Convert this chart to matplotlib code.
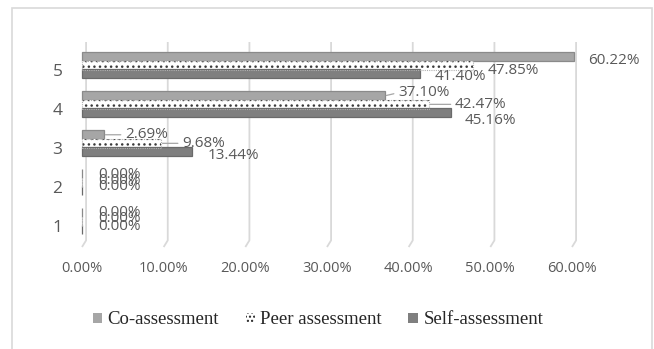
import matplotlib
matplotlib.use("Agg")
import matplotlib.pyplot as plt
from matplotlib.patches import Rectangle, Patch
import numpy as np

# Survey ratings 1-5, share of responses for each assessment type
categories = [1, 2, 3, 4, 5]
series_names = ["Co-assessment", "Peer assessment", "Self-assessment"]
co_assessment = [0.0, 0.0, 2.69, 37.10, 60.22]
peer_assessment = [0.0, 0.0, 9.68, 42.47, 47.85]
self_assessment = [0.0, 0.0, 13.44, 45.16, 41.40]
x_ticks = [0, 10, 20, 30, 40, 50, 60]

W, H = 654, 349
fig = plt.figure(figsize=(W / 100, H / 100), dpi=100)
fig.patch.set_facecolor("white")

# outer chart border
fig.add_artist(Rectangle((12 / W, -0.02), 640 / W, 1 - 8 / H + 0.02,
                         transform=fig.transFigure, fill=False,
                         edgecolor="#d9d9d9", lw=1.2))

left, right = 82 / W, 572 / W
bottom, top = 1 - 247 / H, 1 - 42 / H
ax = fig.add_axes([left, bottom, right - left, top - bottom])
ax.set_xlim(0, 60)
ax.set_ylim(0.46, 5.72)
for s in ax.spines.values():
    s.set_visible(False)

num_font = "Open Sans"
label_col = "#595959"

# back-wall gridlines with a short slanted foot
grid_col = "#d9d9d9"
for v in x_ticks:
    ax.plot([v + 0.5, v + 0.5, v], [5.72, 0.63, 0.46], color=grid_col,
            lw=1.3, clip_on=False, zorder=0, solid_capstyle="butt")

cats = np.array(categories, dtype=float)
bh = 0.23
offs = [0.34, 0.12, -0.10]
values = [co_assessment, peer_assessment, self_assessment]
styles = [
    dict(color="#a6a6a6", edgecolor="#8a8a8a", linewidth=0.9),
    dict(color="white", edgecolor="#3a3a3a", linewidth=0, hatch="..."),
    dict(color="#7f7f7f", edgecolor="#6a6a6a", linewidth=0.9),
]
for vals, off, st in zip(values, offs, styles):
    ax.barh(cats + off, vals, height=bh, zorder=2, clip_on=False, **st)
    if st.get("hatch"):
        # dotted grey outline of the patterned bars
        ax.barh(cats + off, vals, height=bh, zorder=3, fill=False, clip_on=False,
                edgecolor="#b0b0b0", linewidth=0.8, linestyle=(0, (1, 1)))

# data label offsets (pixels right, pixels down) per series and category
label_offsets = [
    [(16, 0), (16, 1), (21, 0), (13, -3), (14, 4)],
    [(16, -3), (16, -2), (21, 0), (26, 0), (15, 5)],
    [(16, -3), (16, -4), (16, 4), (14, 8), (15, 3)],
]
leaders = {(0, 2), (1, 2), (0, 3), (1, 3)}
for si, (vals, off) in enumerate(zip(values, offs)):
    for ci, (c, v) in enumerate(zip(cats, vals)):
        dx, dy = label_offsets[si][ci]
        kw = {}
        if (si, ci) in leaders:
            kw["arrowprops"] = dict(arrowstyle="-", color="#a6a6a6", lw=0.9,
                                    shrinkA=1, shrinkB=1, relpos=(0, 0.5))
        ax.annotate(f"{v:.2f}%", xy=(v, c + off),
                    xytext=(dx * 0.72, -dy * 0.72), textcoords="offset points",
                    ha="left", va="center", fontsize=11, family=num_font,
                    color=label_col, zorder=5, annotation_clip=False, **kw)

ax.set_xticks(x_ticks)
ax.set_xticklabels([f"{t:.2f}%" for t in x_ticks], family=num_font,
                   fontsize=10.5, color=label_col)
ax.set_yticks(categories)
ax.set_yticklabels([str(c) for c in categories], family=num_font,
                   fontsize=12.5, color=label_col)
ax.tick_params(axis="x", length=0, pad=10)
ax.tick_params(axis="y", length=0, pad=14)

handles = [
    Patch(facecolor="#a6a6a6", edgecolor="none"),
    Patch(facecolor="white", edgecolor="#222222", linewidth=0, hatch="...."),
    Patch(facecolor="#7f7f7f", edgecolor="none"),
]
fig.legend(handles, series_names, loc="center", bbox_to_anchor=(318 / W, 1 - 320 / H),
           ncol=3, frameon=False, prop=dict(family="Liberation Serif", size=13.5),
           handlelength=0.5, handleheight=0.5, handletextpad=0.3,
           columnspacing=1.4, labelcolor="#262626")

fig.savefig("out.png", dpi=100, facecolor="white")
